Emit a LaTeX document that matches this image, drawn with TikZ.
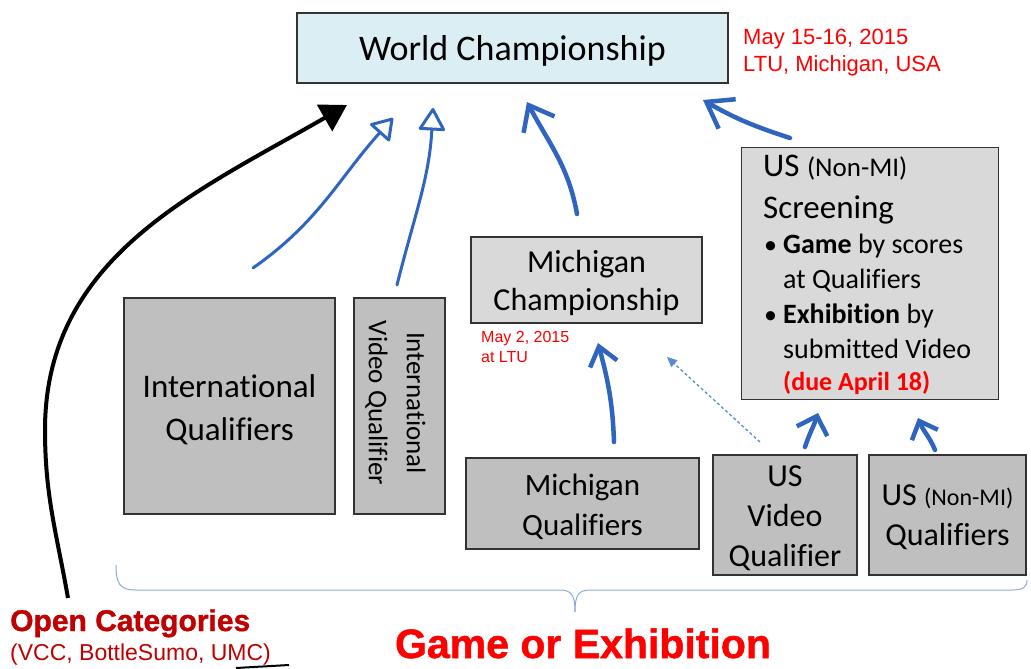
\documentclass[tikz,border=0pt]{standalone}
\usepackage{fontspec}
\setmainfont{Carlito}[Ligatures=NoCommon]
\newfontfamily\arial{Liberation Sans}
\newfontfamily\arialheavy{Liberation Sans Bold}[FakeBold=1.2]
\usetikzlibrary{arrows.meta}
\definecolor{wcblue}{HTML}{DBEEF4}
\definecolor{lgray}{HTML}{D9D9D9}
\definecolor{dgray}{HTML}{BFBFBF}
\definecolor{penc}{HTML}{2F65BF}
\definecolor{dashc}{HTML}{5B8BD0}
\definecolor{darkred}{HTML}{C00000}
\definecolor{bracec}{HTML}{8EAADB}
\newcommand\fs[2]{\fontsize{#1}{#2}\selectfont}
\begin{document}
\begin{tikzpicture}[x=1pt,y=1pt,
  box/.style={draw=black!80, line width=1.1pt, inner sep=0pt, align=center},
  qbox/.style={box, fill=dgray},
  lbox/.style={box, fill=lgray},
  ctext/.style={align=center, inner sep=0pt},
  txt/.style={anchor=base west, inner sep=0pt},
  penthin/.style={draw=penc, line width=3pt, line cap=round, line join=round},
  penthick/.style={draw=penc, line width=4.5pt, line cap=round, line join=round}]
\useasboundingbox (0,0) rectangle (1031,-669);
\fill[white] (0,0) rectangle (1031,-669);

% boxes
\node[box, fill=wcblue, minimum width=431, minimum height=70] (wc) at (512.5,-48) {};
\node[ctext, font=\fs{36}{43}] (wct) at ([yshift=-3]wc.center) {World Championship};
\node[lbox, minimum width=257, minimum height=252, anchor=north west] (scr) at (741,-147) {};
\node[lbox, minimum width=231, minimum height=86] (mc) at (586.5,-280) {};
\node[ctext, font=\fs{32}{38}] (mct) at ([yshift=-3]mc.center) {Michigan\\Championship};
\node[qbox, minimum width=211, minimum height=216] (iq) at (229.5,-406) {};
\node[ctext, font=\fs{33}{43}] (iqt) at ([yshift=-4]iq.center) {International\\Qualifiers};
\node[qbox, minimum width=91, minimum height=216] (ivq) at (399.5,-406) {};
\node[ctext, rotate=-90, font=\fs{27}{38}] (ivqt) at ([xshift=-4,yshift=3]ivq.center) {International\\Video Qualifier};
\node[qbox, minimum width=233, minimum height=91] (mq) at (582.5,-503.5) {};
\node[ctext, font=\fs{31}{40}] (mqt) at ([yshift=-3]mq.center) {Michigan\\Qualifiers};
\node[qbox, minimum width=144, minimum height=120] (uvq) at (785,-515) {};
\node[ctext, font=\fs{32}{40}] (uvqt) at ([yshift=-3]uvq.center) {US\\Video\\Qualifier};
\node[qbox, minimum width=157, minimum height=120] (unq) at (947.5,-515) {};
\node[ctext, font=\fs{32}{40}] (unqt) at ([yshift=-2]unq.center) {US {\fs{24}{40}(Non-MI)}\\Qualifiers};

% screening text
\node[txt] (s1) at (763,-176) {\fs{33}{40}US {\fs{27}{40}(Non-MI)}};
\node[txt] (s2) at (763,-218) {\fs{33}{40}Screening};
\node[txt] (b1) at (764,-253) {\fs{26}{34}\textbullet};
\node[txt] (s3) at (783,-253) {\fs{28}{34}\textbf{Game} by scores};
\node[txt] (s4) at (783,-288) {\fs{28}{34}at Qualifiers};
\node[txt] (b2) at (764,-323) {\fs{26}{34}\textbullet};
\node[txt] (s5) at (783,-323) {\fs{28}{34}\textbf{Exhibition} by};
\node[txt] (s6) at (783,-358) {\fs{28}{34}submitted Video};
\node[txt, text=red] (s7) at (783,-390) {\bfseries\fs{26}{34}(due April 18)};

% red dates
\node[txt, text=red] (d1) at (743,-45) {\arial\fs{22}{27}May 15-16, 2015};
\node[txt, text=red] (d2) at (743,-72) {\arial\fs{22}{27}LTU, Michigan, USA};
\node[txt, text=red] (d3) at (481,-342) {\arial\fs{16}{20}May 2, 2015};
\node[txt, text=red] (d4) at (481,-362) {\arial\fs{16}{20}at LTU};

% bottom texts
\node[txt, text=darkred] (oc) at (10,-631) {\arialheavy\fs{30}{36}Open Categories};
\node[txt, text=darkred] (ocl) at (10,-660) {\arial\fs{23}{28}(VCC, BottleSumo, UMC)};
\node[anchor=base, inner sep=0pt, text=red] (ge) at (583,-658) {\arialheavy\fs{41}{48}Game or Exhibition};

% brace
\coordinate (brL) at (116,-565);
\coordinate (brM) at (575,-612);
\coordinate (brR) at (1027,-580);
\draw[bracec, line width=1pt] (brL) .. controls (116,-584) and (120,-590) .. (136,-590) -- (559,-590) .. controls (571,-590) and (575,-594) .. (brM);
\draw[bracec, line width=1pt] (brM) .. controls (575,-594) and (579,-590) .. (591,-590) -- (1012,-590) .. controls (1023,-590) and (1027,-587) .. (brR);

% black arrow
\coordinate (bs) at (68,-598);
\coordinate (bm) at (45,-430);
\coordinate (bt) at (347,-105);
\draw[line width=4pt, -{Triangle[length=26pt,width=30pt]}] (bs) to[out=100,in=-90] (bm) to[out=90,in=210] (bt);
\coordinate (bx1) at (236,-668);
\coordinate (bx2) at (289,-665);
\draw[line width=2pt] (bx1) -- (bx2);

% blue arrows
\coordinate (a1s) at (253,-268);
\coordinate (a1t) at (393,-118);
\draw[penthin, -{Triangle[open,round,length=22pt,width=28pt]}] (a1s) to[out=35,in=228] (a1t);
\coordinate (a2s) at (397,-285);
\coordinate (a2t) at (433,-108);
\draw[penthin, -{Triangle[open,round,length=24pt,width=28pt]}] (a2s) to[out=76,in=-93] (a2t);
\coordinate (a3s) at (577,-214);
\coordinate (a3t) at (527,-102);
\draw[penthick, -{Straight Barb[length=22pt,width=35pt]}] (a3s) to[out=100,in=-62] (a3t);
\coordinate (a4s) at (790,-138);
\coordinate (a4t) at (703,-100);
\draw[penthick, -{Straight Barb[length=24pt,width=34pt]}] (a4s) to[out=162,in=-30] (a4t);
\coordinate (a5s) at (614,-442);
\coordinate (a5t) at (598,-343);
\draw[penthick, -{Straight Barb[length=18pt,width=28pt]}] (a5s) to[out=92,in=-75] (a5t);
\coordinate (a6s) at (805,-447);
\coordinate (a6t) at (818,-413);
\draw[penthick, -{Straight Barb[length=16pt,width=32pt]}] (a6s) to[out=72,in=-108] (a6t);
\coordinate (a7s) at (935,-450);
\coordinate (a7t) at (918,-418);
\draw[penthick, -{Straight Barb[length=15pt,width=28pt]}] (a7s) to[out=112,in=-68] (a7t);
\coordinate (dds) at (760,-442);
\coordinate (ddt) at (667,-357);
\draw[dashc, line width=1.3pt, dash pattern=on 3pt off 2.5pt, -{Triangle[length=10pt,width=9pt]}] (dds) -- (ddt);
\end{tikzpicture}
\end{document}
